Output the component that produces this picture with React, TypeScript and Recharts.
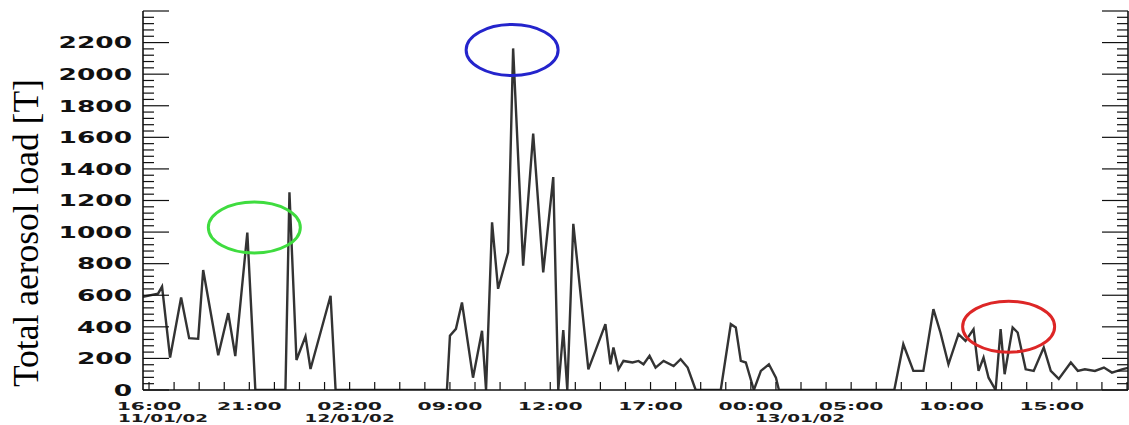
import { LineChart, Line, XAxis, YAxis, ReferenceDot } from "recharts";

// hours after 16:00 on 11/01/02
const HOURS = [
  -0.3, 0.45, 0.65, 1.05, 1.6, 2.0, 2.45, 2.7, 3.45, 3.95, 4.3, 4.9, 5.3, 6.8, 7.0, 7.35, 7.8,
  8.05, 9.05, 9.3, 14.85, 15.0, 15.3, 15.6, 16.15, 16.6, 16.8, 17.1, 17.4, 17.9, 18.15, 18.65,
  19.15, 19.65, 20.15, 20.4, 20.65, 20.85, 21.15, 21.9, 22.25, 22.75, 23.0, 23.15, 23.4, 23.65,
  24.1, 24.4, 24.65, 24.95, 25.25, 25.65, 26.15, 26.5, 26.85, 27.25, 28.5, 29.0, 29.25, 29.5,
  29.75, 30.15, 30.5, 30.9, 31.25, 31.4, 37.15, 37.6, 38.1, 38.6, 39.1, 39.45, 39.85, 40.35,
  40.7, 41.1, 41.35, 41.6, 41.85, 42.2, 42.45, 42.65, 43.05, 43.3, 43.7, 44.1, 44.6, 44.95,
  45.35, 45.95, 46.3, 46.65, 47.15, 47.6, 48.0, 48.5, 48.8,
];

// total aerosol load [T]
const LOAD = [
  590, 610, 655, 205, 586, 328, 324, 760, 220, 487, 215, 997, 0, 0, 1252, 190, 340,
  133, 597, 0, 0, 343, 387, 554, 78, 375, 0, 1062, 641, 872, 2163, 787,
  1624, 745, 1348, 0, 380, 0, 1052, 131, 248, 417, 163, 269, 131, 184,
  174, 184, 163, 216, 142, 184, 152, 195, 142, 0, 0, 417, 396, 184,
  174, 0, 121, 163, 78, 0, 0, 290, 121, 121, 512, 364, 163, 354,
  311, 385, 121, 205, 78, 0, 385, 100, 396, 364, 131, 121, 269, 121,
  70, 174, 121, 131, 121, 142, 110, 131, 140,
];

const TIME_TICKS = [0, 5, 10, 15, 20, 25, 30, 35, 40, 45];
const TIME_LABELS = ["16:00", "21:00", "02:00", "09:00", "12:00", "17:00", "00:00", "05:00", "10:00", "15:00"];
const DATE_TICKS = [0.7, 10, 32.45];
const DATE_LABELS = ["11/01/02", "12/01/02", "13/01/02"];
const Y_LABELS = [0, 200, 400, 600, 800, 1000, 1200, 1400, 1600, 1800, 2000, 2200];

// highlighted events (green, blue, red rings)
const MARK_HOURS = [5.25, 18.1, 42.85];
const MARK_LOADS = [1029, 2153, 401];
const MARK_COLORS = ["#3fdc3f", "#2424cc", "#dd2626"];

const X_DOMAIN: [number, number] = [-0.3, 48.8];
const Y_DOMAIN: [number, number] = [0, 2400];
const X_MINOR = Array.from({ length: 40 }, (_, i) => i * 1.25);
const Y_MINOR = Array.from({ length: 61 }, (_, i) => i * 40);

const INK = "#111";
const TICK_FONT = { fontFamily: "DejaVu Sans", fontWeight: 700 };

const data = HOURS.map((h, i) => ({ h, load: LOAD[i] }));

function BottomTick({ x, y, payload }: any) {
  const idx = TIME_TICKS.indexOf(payload.value);
  return (
    <g>
      <line x1={x} x2={x} y1={y} y2={y - 8} stroke={INK} strokeWidth={1.2} />
      {idx >= 0 && (
        <text
          transform={`translate(${x},${y + 19.5}) scale(1.85,1)`}
          textAnchor="middle"
          fontSize={11}
          fill="#1a1a1a"
          style={TICK_FONT}
        >
          {TIME_LABELS[idx]}
        </text>
      )}
    </g>
  );
}

function TopTick({ x, y }: any) {
  return <line x1={x} x2={x} y1={y} y2={y + 8} stroke={INK} strokeWidth={1.2} />;
}

function DateTick({ x, y, payload }: any) {
  const idx = DATE_TICKS.indexOf(payload.value);
  if (idx < 0) return null;
  return (
    <text
      transform={`translate(${x},${y + 15}) scale(1.75,1)`}
      textAnchor="middle"
      fontSize={10.5}
      fill="#1a1a1a"
      style={TICK_FONT}
    >
      {DATE_LABELS[idx]}
    </text>
  );
}

function LeftTick({ x, y, payload }: any) {
  const v = payload.value;
  const major = v % 200 === 0;
  return (
    <g>
      <line x1={x} x2={x + (major ? 26 : 11)} y1={y} y2={y} stroke={INK} strokeWidth={1.2} />
      {Y_LABELS.includes(v) && (
        <text
          transform={`translate(${x - 11},${y}) scale(1.65,1)`}
          textAnchor="end"
          dy="0.36em"
          fontSize={16}
          fill={INK}
          style={TICK_FONT}
        >
          {v}
        </text>
      )}
    </g>
  );
}

function RightTick({ x, y, payload }: any) {
  const major = payload.value % 200 === 0;
  return <line x1={x} x2={x - (major ? 26 : 11)} y1={y} y2={y} stroke={INK} strokeWidth={1.2} />;
}

function YTitle({ viewBox }: any) {
  const cx = viewBox.x + 38;
  const cy = viewBox.y + viewBox.height * 0.586;
  return (
    <text
      x={cx}
      y={cy}
      transform={`rotate(-90, ${cx}, ${cy})`}
      textAnchor="middle"
      fontSize={35.5}
      fill="#000"
      fontFamily="Liberation Serif"
    >
      Total aerosol load [T]
    </text>
  );
}

function ring(color: string) {
  return (props: any) => (
    <ellipse cx={props.cx} cy={props.cy} rx={46} ry={25.5} fill="none" stroke={color} strokeWidth={3} />
  );
}

export default function App() {
  return (
    <div style={{ width: 1129, height: 425, background: "#fff" }}>
      <style>{"body{margin:0}"}</style>
      <LineChart width={1129} height={425} data={data} margin={{ top: 11, right: 0, bottom: 0, left: 0 }}>
        <XAxis
          dataKey="h"
          type="number"
          domain={X_DOMAIN}
          allowDataOverflow
          ticks={X_MINOR}
          interval={0}
          tick={<BottomTick />}
          tickLine={false}
          tickSize={0}
          tickMargin={0}
          height={17}
          axisLine={{ stroke: INK, strokeWidth: 1.6 }}
        />
        <XAxis
          xAxisId="dates"
          dataKey="h"
          type="number"
          domain={X_DOMAIN}
          allowDataOverflow
          ticks={DATE_TICKS}
          interval={0}
          tick={<DateTick />}
          tickLine={false}
          tickSize={0}
          tickMargin={0}
          axisLine={false}
          height={18}
        />
        <XAxis
          xAxisId="top"
          dataKey="h"
          orientation="top"
          type="number"
          domain={X_DOMAIN}
          allowDataOverflow
          ticks={X_MINOR}
          interval={0}
          tick={<TopTick />}
          tickLine={false}
          tickSize={0}
          tickMargin={0}
          height={0}
          axisLine={{ stroke: INK, strokeWidth: 1.6 }}
        />
        <YAxis
          dataKey="load"
          type="number"
          domain={Y_DOMAIN}
          allowDataOverflow
          ticks={Y_MINOR}
          interval={0}
          tick={<LeftTick />}
          tickLine={false}
          tickSize={0}
          tickMargin={0}
          width={143}
          axisLine={{ stroke: INK, strokeWidth: 1.6 }}
          label={{ content: <YTitle /> }}
        />
        <YAxis
          yAxisId="right"
          dataKey="load"
          orientation="right"
          type="number"
          domain={Y_DOMAIN}
          allowDataOverflow
          ticks={Y_MINOR}
          interval={0}
          tick={<RightTick />}
          tickLine={false}
          tickSize={0}
          tickMargin={0}
          width={1}
          axisLine={{ stroke: INK, strokeWidth: 1.6 }}
        />
        <Line
          type="linear"
          dataKey="load"
          stroke="#333"
          strokeWidth={2.4}
          dot={false}
          isAnimationActive={false}
        />
        {MARK_HOURS.map((h, i) => (
          <ReferenceDot key={i} x={h} y={MARK_LOADS[i]} r={25} shape={ring(MARK_COLORS[i])} />
        ))}
      </LineChart>
    </div>
  );
}
